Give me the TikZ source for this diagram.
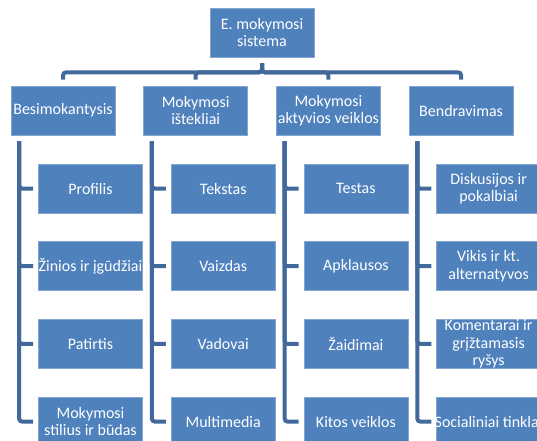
\documentclass[tikz,border=0pt]{standalone}
\usepackage{fontspec}
\setmainfont{Carlito}

\definecolor{boxblue}{HTML}{4F81BD}
\definecolor{linkblue}{HTML}{41699C}

\begin{document}
\begin{tikzpicture}[x=1pt, y=-1pt,
	box/.style={fill=boxblue, draw=boxblue!70!white, line width=0.7pt, text=white, minimum width=104pt, minimum height=49pt, inner xsep=1pt, inner ysep=0pt, align=center, font=\fontsize{16}{17.3}\selectfont},
	link/.style={draw=linkblue, line width=4pt, rounded corners=3pt}]
	\clip (0,0) rectangle (537,440);

	\node [box] (top) at (262,32.5) {E. mokymosi\\sistema};

	% first level
	\foreach \c/\txt in {0/Besimokantysis, 1/{Mokymosi\\ištekliai}, 2/{Mokymosi\\aktyvios veiklos}, 3/Bendravimas} {
		\node [box] (c\c) at (63+132.7*\c, 110.5) {\txt};
		\draw [link] ([yshift=-6pt]top.south) -- ++(0,-9pt) -| ([yshift=6pt]c\c.north);
	}

	% second level
	\foreach \c/\j/\txt in {0/0/Profilis, 0/1/{\makebox[0pt]{Žinios ir įgūdžiai}}, 0/2/Patirtis, 0/3/{Mokymosi\\stilius ir būdas},
		1/0/Tekstas, 1/1/Vaizdas, 1/2/Vadovai, 1/3/Multimedia,
		2/0/Testas, 2/1/Apklausos, 2/2/Žaidimai, 2/3/Kitos veiklos,
		3/0/{Diskusijos ir\\pokalbiai}, 3/1/{Vikis ir kt.\\alternatyvos}, 3/2/{Komentarai ir\\grįžtamasis\\ryšys}, 3/3/{\makebox[0pt]{Socialiniai tinklai}}} {
		\node [box] (g\c\j) at (90.5+132.7*\c, 188.5+77.7*\j) {\txt};
		\draw [link] ([xshift=8.5pt, yshift=-6pt]c\c.south west) |- ([xshift=-5pt]g\c\j.west);
	}
\end{tikzpicture}
\end{document}
